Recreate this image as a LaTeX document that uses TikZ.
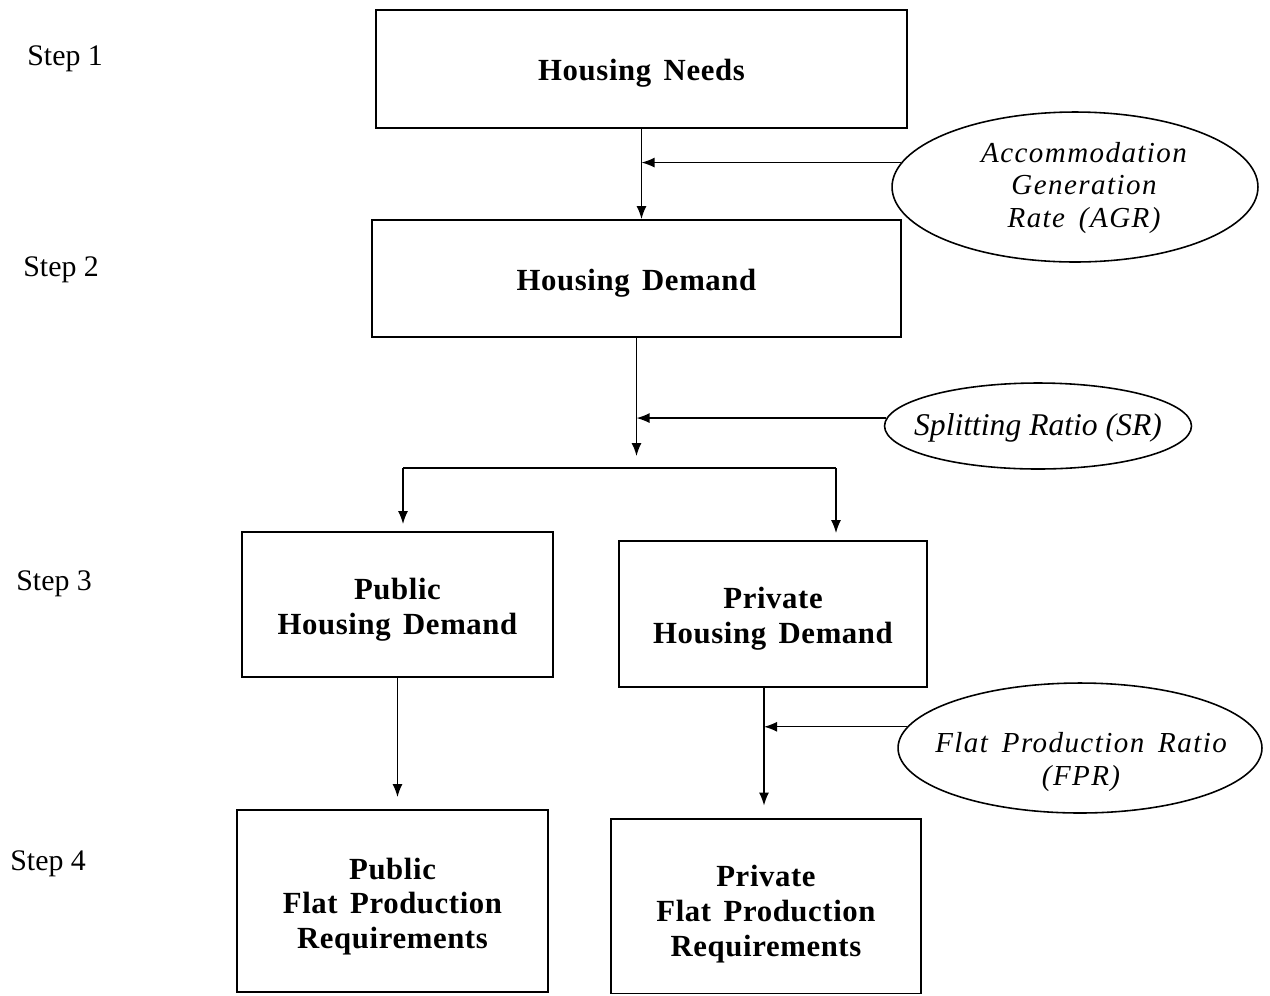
\documentclass[tikz,border=0pt]{standalone}
\usepackage{fontspec}
\setmainfont{Liberation Serif}
\newfontfamily\boxfont[LetterSpace=2,WordSpace=1.5]{Liberation Serif}
\newfontfamily\ellfont[LetterSpace=5,WordSpace=1.6]{Liberation Serif}
\usetikzlibrary{arrows.meta,shapes.geometric}
\tikzset{
  box/.style={draw,line width=1.1pt,inner sep=0pt},
  boxtext/.style={align=center,inner sep=0pt,
    font=\boxfont\bfseries\fontsize{17.5}{19.8}\selectfont},
  oval/.style={draw,ellipse,line width=0.9pt,inner sep=0pt},
  ovaltext/.style={align=center,inner sep=0pt},
  steplabel/.style={anchor=west,inner sep=0pt,font=\fontsize{17}{20}\selectfont},
  conn/.style={line width=0.8pt},
  arr/.style={conn,-{Latex[length=2.6mm,width=2mm]}}
}
\begin{document}
\begin{tikzpicture}[x=0.02cm,y=-0.02cm]
\useasboundingbox (0,0) rectangle (1270,995);
% step labels
\node[steplabel] (s1) at (27,59) {Step 1};
\node[steplabel] (s2) at (23,270) {Step 2};
\node[steplabel] (s3) at (16,584) {Step 3};
\node[steplabel] (s4) at (10,864) {Step 4};
% boxes
\node[box,minimum width=10.62cm,minimum height=2.36cm] (needs) at (641.5,69) {};
\node[boxtext] (needst) at ([yshift=-0.09cm]needs.center) {Housing Needs};
\node[box,minimum width=10.58cm,minimum height=2.34cm] (demand) at (636.5,278.5) {};
\node[boxtext] (demandt) at ([yshift=-0.09cm]demand.center) {Housing Demand};
\node[box,minimum width=6.22cm,minimum height=2.9cm] (pubhd) at (397.5,604.5) {};
\node[boxtext] (pubhdt) at ([yshift=-0.11cm]pubhd.center) {Public\\Housing Demand};
\node[box,minimum width=6.16cm,minimum height=2.92cm] (privhd) at (773,614) {};
\node[boxtext] (privhdt) at ([yshift=-0.1cm]privhd.center) {Private\\Housing Demand};
\node[box,minimum width=6.22cm,minimum height=3.64cm] (pubfpr) at (392.5,901) {};
\node[boxtext] (pubfprt) at ([yshift=-0.11cm]pubfpr.center) {Public\\Flat Production\\Requirements};
\node[box,minimum width=6.2cm,minimum height=3.5cm] (privfpr) at (766,906) {};
\node[boxtext] (privfprt) at ([yshift=-0.16cm]privfpr.center) {Private\\Flat Production\\Requirements};
% ellipses
\node[oval,minimum width=7.32cm,minimum height=3.0cm] (agr) at (1075,187) {};
\node[ovaltext,font=\ellfont\itshape\fontsize{16.5}{18.7}\selectfont] (agrtext) at (1084,188)
  {Accommodation\\Generation\\Rate (AGR)};
\node[oval,minimum width=6.14cm,minimum height=1.72cm] (sr) at (1038,426) {};
\node[ovaltext,font=\itshape\fontsize{18}{20}\selectfont] (srtext) at (1038,428) {Splitting Ratio (SR)};
\node[oval,minimum width=7.28cm,minimum height=2.6cm] (fpr) at (1080,748) {};
\node[ovaltext,font=\ellfont\itshape\fontsize{16.5}{19.3}\selectfont] (fprtext) at (1081,762)
  {Flat Production Ratio\\(FPR)};
% step 1 -> 2
\draw[arr] (needs.south) -- (needs.south |- demand.north);
\draw[arr] (agr.172) -- (agr.172 -| needs.south);
% step 2 -> split
\coordinate (sp) at (636.5,456);
\draw[arr] (demand.south) -- (sp);
\draw[arr] (sr.177) -- (sr.177 -| sp);
\coordinate (bl) at (403,468);
\coordinate (br) at (836,468);
\draw[conn] (bl) -- (br);
\draw[arr,shorten >=0.14cm] (bl) -- (bl |- pubhd.north);
\draw[arr,shorten >=0.14cm] (br) -- (br |- privhd.north);
% step 3 -> 4
\draw[arr,shorten >=0.24cm] (pubhd.south) -- (pubhd.south |- pubfpr.north);
\coordinate (px) at (764,0);
\draw[arr,shorten >=0.24cm] (privhd.south -| px) -- (px |- privfpr.north);
\draw[arr] (fpr.173) -- (fpr.173 -| px);
\end{tikzpicture}
\end{document}
